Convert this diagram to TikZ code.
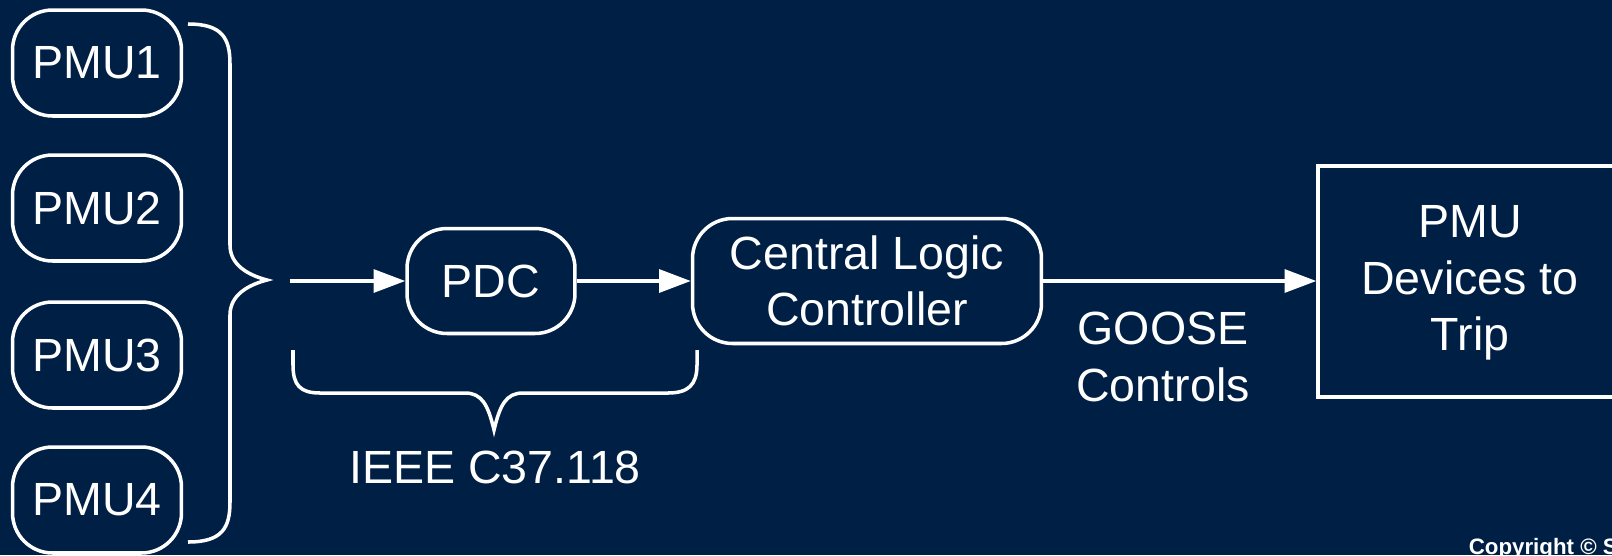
\documentclass[tikz,border=0pt]{standalone}
\usepackage{fontspec}
\setmainfont{Liberation Sans}
\usetikzlibrary{arrows.meta}
\definecolor{navy}{RGB}{0,31,68}

\begin{document}
\begin{tikzpicture}[x=0.02cm,y=-0.02cm,line width=2pt,white,
    txt/.style={font=\fontsize{26.5}{32}\selectfont,align=center},
    pill/.style={draw,rounded corners=0.8cm,inner sep=0pt,txt},
    link/.style={-{Triangle[length=18pt,width=13pt]}}]
                \fill[navy] (0,0) rectangle (1612,555);
                \useasboundingbox (0,0) rectangle (1612,555);
                % the four PMUs stacked on the left
                \foreach \n/\y in {1/63,2/208,3/355,4/500}
                    \node[pill,minimum width=3.38cm,minimum height=2.12cm] (pmu\n) at (97,\y) {PMU\n};
                \draw (188,24) .. controls (222,24) and (230,38) .. (230,64) -- (230,245)
                      .. controls (230,265) and (248,275) .. (267,280)
                      .. controls (248,285) and (230,295) .. (230,315) -- (230,502)
                      .. controls (230,528) and (222,542) .. (188,542);
                \coordinate (in) at (290,281);
                \node[pill,minimum width=3.36cm,minimum height=2.1cm] (pdc) at (491,281) {PDC};
                \node[pill,minimum width=6.98cm,minimum height=2.5cm] (clc) at (867,281) {Central Logic\\Controller};
                % box runs off the right edge
                \node[draw,minimum width=6.44cm,minimum height=4.62cm] (trip) at (1479,281.5) {};
                \node[txt] (triptxt) at (1470,283) {PMU\\Devices to\\Trip};
                \draw[link] (in) -- (pdc);
                \draw[link] (pdc) -- (clc);
                \draw[link] (clc) -- (trip.west |- clc);
                \node[txt] (goose) at (1163,357) {GOOSE\\Controls};
                % brace under the C37.118 part
                \draw (293,350) -- (293,365) .. controls (293,385) and (300,393) .. (320,393) -- (465,393)
                      .. controls (482,393) and (488,405) .. (494,430)
                      .. controls (500,405) and (506,393) .. (523,393) -- (668,393)
                      .. controls (688,393) and (697,385) .. (697,365) -- (697,350);
                \node[txt,anchor=base] (ieee) at (495,483) {IEEE C37.118};
                \node[anchor=base west,inner sep=0pt,font=\fontsize{12.7}{14}\selectfont\bfseries] (copy) at (1467,554) {Copyright © S};
            \end{tikzpicture}
\end{document}
